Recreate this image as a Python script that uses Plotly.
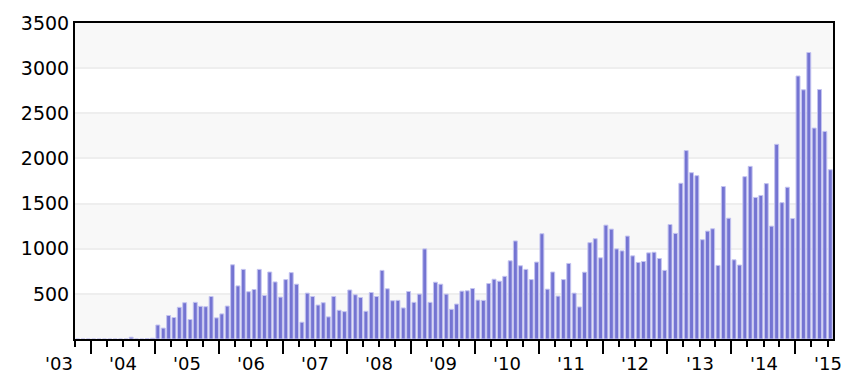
import pandas as pd
import plotly.graph_objects as go

# Monthly values, April 2003 .. January 2015
months = pd.date_range("2003-04-01", "2015-01-01", freq="MS")
values_2003_2004 = [0, 0, 0, 0, 0, 0, 0, 0, 0,          # Apr-Dec 2003
                    0, 20, 0, 0, 5, 8, 155, 121, 260, 238, 351, 402]  # 2004
values_2005 = [216, 406, 362, 358, 471, 234, 278, 365, 822, 588, 771, 523]
values_2006 = [548, 771, 482, 742, 632, 464, 658, 735, 607, 186, 508, 471]
values_2007 = [376, 402, 245, 471, 318, 303, 543, 490, 460, 307, 515, 471]
values_2008 = [760, 556, 424, 428, 344, 526, 406, 497, 998, 406, 629, 607]
values_2009 = [497, 329, 387, 530, 534, 559, 431, 428, 614, 662, 640, 694]
values_2010 = [866, 1086, 811, 771, 658, 852, 1166, 552, 742, 475, 658, 837]
values_2011 = [508, 355, 740, 1067, 1111, 899, 1261, 1217, 998, 976, 1140, 921]
values_2012 = [848, 859, 954, 961, 892, 760, 1268, 1170, 1725, 2087, 1842, 1809]
values_2013 = [1100, 1195, 1221, 815, 1689, 1338, 877, 819, 1798, 1912, 1568, 1590]
values_2014 = [1721, 1250, 2156, 1510, 1681, 1334, 2913, 2760, 3173, 2336, 2763, 2299]
values_2015 = [1875]

values = (values_2003_2004 + values_2005 + values_2006 + values_2007 + values_2008
          + values_2009 + values_2010 + values_2011 + values_2012 + values_2013
          + values_2014 + values_2015)

years = list(range(2003, 2016))
year_labels = ["'%02d" % (y % 100) for y in years]
y_ticks = [500, 1000, 1500, 2000, 2500, 3000, 3500]

x_start = pd.Timestamp("2003-04-01")
x_end = pd.Timestamp("2015-02-01")
y_max = 3500

FONT = "DejaVu Sans, Verdana, sans-serif"

fig = go.Figure()
fig.add_trace(go.Bar(
    x=months, y=values,
    xperiod="M1", xperiodalignment="middle",
    marker=dict(color="rgb(116,116,210)",
                line=dict(color="rgb(196,196,240)", width=1)),
    hoverinfo="x+y",
))

# alternating background bands
shapes = []
for i, lo in enumerate(range(0, y_max, 500)):
    if i % 2 == 0:
        shapes.append(dict(type="rect", xref="paper", yref="y", x0=0, x1=1,
                           y0=lo, y1=lo + 500, fillcolor="#f8f8f8",
                           line=dict(width=0), layer="below"))

# year labels (centered on Jan 1 of each year)
span = (x_end - x_start).total_seconds()
annotations = []
for y, lab in zip(years, year_labels):
    frac = (pd.Timestamp(f"{y}-01-01") - x_start).total_seconds() / span
    annotations.append(dict(xref="paper", yref="paper", x=frac, y=0,
                            text=lab, showarrow=False, xanchor="center",
                            yanchor="middle", yshift=-24,
                            font=dict(family=FONT, size=18, color="#000")))

long_ticks = [pd.Timestamp(f"{y}-07-01") for y in range(2003, 2015)]

fig.update_layout(
    width=860, height=390,
    margin=dict(l=75, r=27, t=21, b=51),
    paper_bgcolor="white", plot_bgcolor="white",
    bargap=0.24,
    showlegend=False,
    shapes=shapes,
    annotations=annotations,
    font=dict(family=FONT, size=18, color="#000"),
    xaxis=dict(
        type="date",
        range=[x_start, x_end],
        tickvals=long_ticks,
        showticklabels=False,
        ticks="outside", ticklen=13, tickwidth=2, tickcolor="#000",
        showgrid=False, zeroline=False,
        showline=True, linecolor="#000", linewidth=2, mirror=True,
        minor=dict(dtick="M3", tick0="2003-01-01", ticks="outside",
                   ticklen=6, tickwidth=2, tickcolor="#000", showgrid=False),
    ),
    yaxis=dict(
        range=[0, y_max],
        tickvals=y_ticks,
        ticks="", showgrid=True, gridcolor="#eeeeee", gridwidth=2,
        zeroline=False,
        showline=True, linecolor="#000", linewidth=2, mirror=True,
        tickfont=dict(family=FONT, size=19, color="#000"),
    ),
)

fig.write_html("out.html")
